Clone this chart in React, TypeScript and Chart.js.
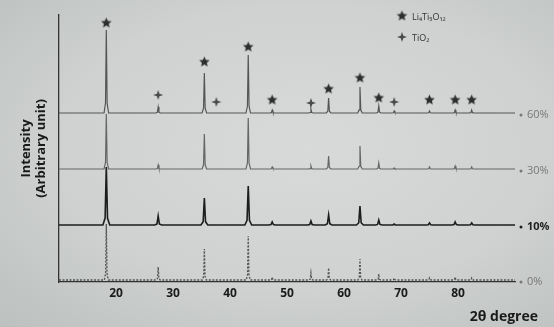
import React, { useEffect, useRef } from 'react';
import { Chart, registerables } from 'chart.js';

Chart.register(...registerables);

// 2θ positions of the reflections (degrees)
const peakPositions = [18.3, 27.4, 35.5, 43.2, 47.4, 54.2, 57.3, 62.8, 66.1, 68.8, 75.0, 79.5, 82.4];
// peak heights above each trace's baseline (arbitrary units)
const heights60 = [83, 6, 40, 58, 3, 4, 15, 26, 7, 2, 2, 3, 3];
const heights30 = [55, 4, 35, 51, 2, 3, 13, 23, 6, 1, 2, 3, 2];
const heights10 = [58, 9, 27, 39, 3, 4, 10, 19, 5, 1, 2, 3, 2];
const heights0 = [56, 13, 31, 44, 3, 7, 12, 21, 6, 2, 2, 3, 2];
// vertical offsets of the stacked traces
const seriesLabels = ['60%', '30%', '10%', '0%'];
const baselines = [169, 113, 57, 2];
// phase markers above the 60% trace
const ltoMarkerX = [18.3, 35.5, 43.2, 47.4, 57.3, 62.8, 66.1, 75.0, 79.5, 82.4];
const ltoMarkerY = [90, 51, 66, 13, 24, 35, 15, 13, 13, 13];
const tio2MarkerX = [27.4, 37.6, 54.2, 68.8];
const tio2MarkerY = [18, 11, 10, 11];
const xTicks = [20, 30, 40, 50, 60, 70, 80];
const legendLabels = ['Li₄Ti₅O₁₂', 'TiO₂'];

function buildTrace(heights: number[], base: number, hw: number) {
  const pts: { x: number; y: number }[] = [{ x: 10, y: base }];
  peakPositions.forEach((p, i) => {
    pts.push({ x: p - hw, y: base });
    pts.push({ x: p - hw * 0.35, y: base + heights[i] * 0.12 });
    pts.push({ x: p, y: base + heights[i] });
    pts.push({ x: p + hw * 0.35, y: base + heights[i] * 0.12 });
    pts.push({ x: p + hw, y: base });
  });
  pts.push({ x: 90, y: base });
  return pts;
}

function makeStar(color: string, points: number, rOut: number, rIn: number) {
  const size = Math.ceil(rOut * 2 + 2);
  const c = document.createElement('canvas');
  c.width = size;
  c.height = size;
  const ctx = c.getContext('2d')!;
  ctx.fillStyle = color;
  ctx.beginPath();
  const cx = size / 2, cy = size / 2;
  for (let i = 0; i < points * 2; i++) {
    const r = i % 2 === 0 ? rOut : rIn;
    const a = -Math.PI / 2 + (i * Math.PI) / points;
    const x = cx + r * Math.cos(a), y = cy + r * Math.sin(a);
    if (i === 0) ctx.moveTo(x, y); else ctx.lineTo(x, y);
  }
  ctx.closePath();
  ctx.fill();
  return c;
}

export default function App() {
  const ref = useRef<HTMLCanvasElement>(null);
  useEffect(() => {
    const star = makeStar('#2e2e2e', 5, 5.5, 2.6);
    const cross = makeStar('#4a4a4a', 4, 5, 1.8);
    const sans = "'Open Sans', 'DejaVu Sans', sans-serif";

    const overlay = {
      id: 'overlay',
      afterDraw(chart: any) {
        const { ctx, chartArea, scales } = chart;
        const ys = scales.y;
        ctx.save();
        // right-hand series labels
        seriesLabels.forEach((lab, i) => {
          const y = ys.getPixelForValue(baselines[i]) + 2;
          const strong = lab === '10%';
          ctx.fillStyle = strong ? '#1e1e1e' : '#777';
          ctx.beginPath();
          ctx.arc(chartArea.right + 6, y, 1.5, 0, Math.PI * 2);
          ctx.fill();
          ctx.font = (strong ? 'bold ' : '') + '11px ' + sans;
          ctx.textBaseline = 'middle';
          ctx.fillText(lab, chartArea.right + 12, y);
        });
        // legend
        const lx = chartArea.right - 113;
        ctx.drawImage(star, lx - star.width / 2, 16 - star.height / 2);
        ctx.drawImage(cross, lx - cross.width / 2, 37 - cross.height / 2);
        ctx.fillStyle = '#333';
        ctx.font = '9px ' + sans;
        ctx.textBaseline = 'middle';
        ctx.fillText(legendLabels[0], lx + 10, 17);
        ctx.fillText(legendLabels[1], lx + 10, 38);
        // x-axis title
        ctx.fillStyle = '#1a1a1a';
        ctx.font = 'bold 14px ' + sans;
        ctx.textAlign = 'right';
        ctx.textBaseline = 'middle';
        ctx.fillText('2θ degree', chartArea.right + 23, 317);
        ctx.restore();
      },
    };

    const chart = new Chart(ref.current!, {
      type: 'line',
      data: {
        datasets: [
          { label: '60%', data: buildTrace(heights60, baselines[0], 0.4), borderColor: '#555', borderWidth: 1.2, pointRadius: 0 },
          { label: '30%', data: buildTrace(heights30, baselines[1], 0.4), borderColor: '#666', borderWidth: 1.2, pointRadius: 0 },
          { label: '10%', data: buildTrace(heights10, baselines[2], 0.6), borderColor: '#1c1c1c', borderWidth: 1.6, pointRadius: 0 },
          { label: '0%', data: buildTrace(heights0, baselines[3], 0.35), borderColor: '#555', borderWidth: 1.3, borderDash: [2, 1.5], pointRadius: 0 },
          {
            label: 'Li4Ti5O12',
            type: 'scatter',
            data: ltoMarkerX.map((x, i) => ({ x, y: baselines[0] + ltoMarkerY[i] })),
            pointStyle: star as any,
            showLine: false,
          },
          {
            label: 'TiO2',
            type: 'scatter',
            data: tio2MarkerX.map((x, i) => ({ x, y: baselines[0] + tio2MarkerY[i] })),
            pointStyle: cross as any,
            showLine: false,
          },
        ] as any,
      },
      options: {
        animation: false,
        responsive: false,
        maintainAspectRatio: false,
        parsing: false as any,
        layout: { padding: { left: 0, right: 39, top: 15, bottom: 0 } },
        plugins: { legend: { display: false }, tooltip: { enabled: false } },
        elements: { line: { tension: 0 } },
        scales: {
          x: {
            type: 'linear',
            min: 10,
            max: 90,
            afterBuildTicks: (scale: any) => {
              scale.ticks = [10, ...xTicks, 90].map((v) => ({ value: v }));
            },
            afterFit: (scale: any) => {
              scale.height = 45;
            },
            grid: { display: false, drawTicks: false },
            border: { display: true, color: '#333', width: 1.3 },
            ticks: {
              padding: 4,
              color: '#1a1a1a',
              font: { family: sans, size: 12, weight: 'bold' },
              callback: (v: any) => (xTicks.includes(Number(v)) ? String(v) : ''),
              maxRotation: 0,
              autoSkip: false,
            },
          },
          y: {
            type: 'linear',
            min: 0,
            max: 267,
            afterFit: (scale: any) => {
              scale.width = 59;
            },
            grid: { display: false, drawTicks: false },
            border: { display: true, color: '#333', width: 1.3 },
            ticks: { display: false },
            title: {
              display: true,
              text: ['Intensity', '(Arbitrary unit)'],
              color: '#1a1a1a',
              font: { family: sans, size: 13, weight: 'bold', lineHeight: 1.2 },
              padding: { top: 18, bottom: 0 },
            },
          },
        },
      } as any,
      plugins: [overlay],
    });
    return () => chart.destroy();
  }, []);

  return (
    <div
      style={{
        position: 'fixed',
        left: 0,
        top: 0,
        width: 554,
        height: 327,
        background: 'radial-gradient(ellipse at 55% 45%, #d7dad8 0%, #cfd2d0 55%, #bcc0be 100%)',
      }}
    >
      <canvas ref={ref} width={554} height={327} style={{ display: 'block', width: 554, height: 327 }} />
    </div>
  );
}
